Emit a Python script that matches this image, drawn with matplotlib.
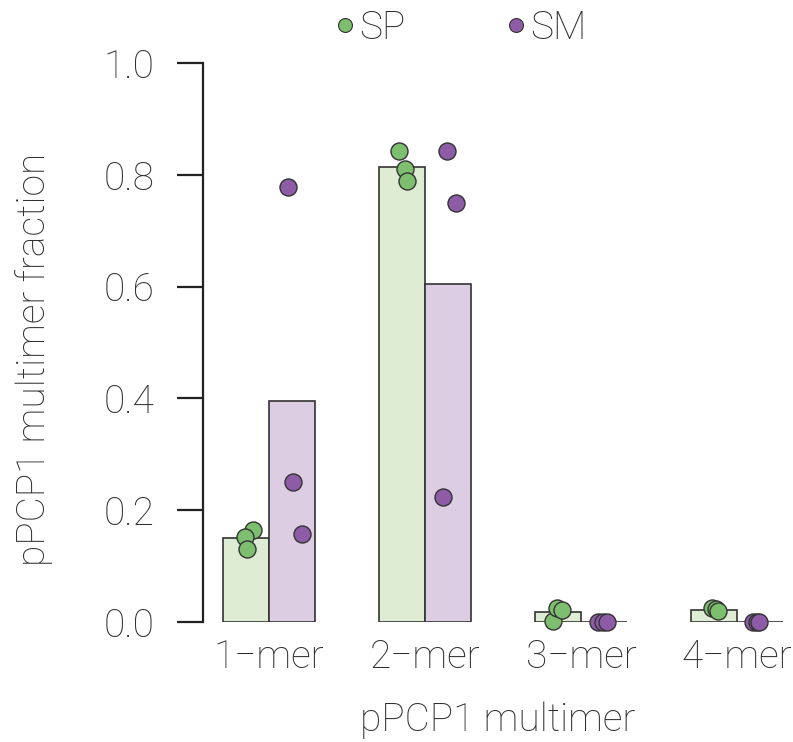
import matplotlib
matplotlib.use("Agg")
import matplotlib.pyplot as plt
import numpy as np

plt.rcParams['font.family'] = ['Roboto', 'DejaVu Sans']
plt.rcParams['font.weight'] = 'light'
plt.rcParams['axes.labelweight'] = 'light'

categories = ["1\u2212mer", "2\u2212mer", "3\u2212mer", "4\u2212mer"]

# bar heights (group means)
sp_bars = [0.150, 0.814, 0.018, 0.021]
sm_bars = [0.395, 0.605, 0.0, 0.0]

# replicate points, 3 per group
sp_points = [[0.165, 0.152, 0.131],
             [0.843, 0.810, 0.789],
             [0.002, 0.025, 0.021],
             [0.025, 0.023, 0.020]]
sm_points = [[0.778, 0.250, 0.157],
             [0.843, 0.750, 0.224],
             [0.0, 0.0, 0.0],
             [0.0, 0.0, 0.0]]

# horizontal jitter of the points, relative to group centre
sp_jitter = [[-0.103, -0.154, -0.141],
             [-0.167, -0.128, -0.115],
             [-0.179, -0.154, -0.122],
             [-0.160, -0.135, -0.122]]
sm_jitter = [[0.122, 0.154, 0.212],
             [0.141, 0.199, 0.115],
             [0.109, 0.141, 0.167],
             [0.103, 0.128, 0.141]]

green_dark = "#7dbf6e"
green_light = "#dfecd4"
purple_dark = "#8e5ca6"
purple_light = "#ddcde2"
edge = "#333333"
txt = "#2e2e2e"
fs = 28

fig = plt.figure(figsize=(7.93, 7.42), dpi=100)
ax = fig.add_axes([203/793, 1 - 622/742, 1 - 203/793, (622 - 63)/742])

x = np.arange(len(categories))
w = 0.295
ax.bar(x - w/2, sp_bars, width=w, color=green_light, edgecolor=edge, linewidth=1.2, zorder=2)
ax.bar(x + w/2, sm_bars, width=w, color=purple_light, edgecolor=edge, linewidth=1.2, zorder=2)

for i in range(len(categories)):
    ax.scatter(x[i] + np.array(sp_jitter[i]), sp_points[i], s=150, color=green_dark,
               edgecolor=edge, linewidth=1.0, zorder=3, clip_on=False)
    ax.scatter(x[i] + np.array(sm_jitter[i]), sm_points[i], s=150, color=purple_dark,
               edgecolor=edge, linewidth=1.0, zorder=3, clip_on=False)

ax.set_xlim(-66/156, (793 - 269)/156)
ax.set_ylim(0, 1.0)
ax.set_yticks([0, 0.2, 0.4, 0.6, 0.8, 1.0])
ax.set_yticklabels(["0.0", "0.2", "0.4", "0.6", "0.8", "1.0"])
ax.set_xticks(x)
ax.set_xticklabels(categories)

for s in ["top", "right", "bottom"]:
    ax.spines[s].set_visible(False)
ax.spines["left"].set_linewidth(1.6)
ax.spines["left"].set_color("#222222")

ax.tick_params(axis="y", length=19, width=1.6, color="#222222", pad=16,
               labelsize=fs, labelcolor=txt)
ax.tick_params(axis="x", length=0, pad=12, labelsize=fs, labelcolor=txt)

ax.set_ylabel("pPCP1 multimer fraction", fontsize=fs, color=txt)
ax.yaxis.set_label_coords(-0.254, 0.47)
ax.set_xlabel("pPCP1 multimer", fontsize=fs, color=txt, labelpad=18)

h1 = plt.Line2D([], [], marker="o", linestyle="none", markersize=10,
                markerfacecolor=green_dark, markeredgecolor=edge, markeredgewidth=0.8)
h2 = plt.Line2D([], [], marker="o", linestyle="none", markersize=10,
                markerfacecolor=purple_dark, markeredgecolor=edge, markeredgewidth=0.8)
leg = fig.legend([h1, h2], ["SP", "SM"], loc="upper center", bbox_to_anchor=(0.575, 1.035),
                 ncol=2, frameon=False, fontsize=fs, handletextpad=-0.15,
                 columnspacing=2.35, handlelength=1.0)
for t in leg.get_texts():
    t.set_color(txt)

fig.savefig("out.png", dpi=100, facecolor="white")
